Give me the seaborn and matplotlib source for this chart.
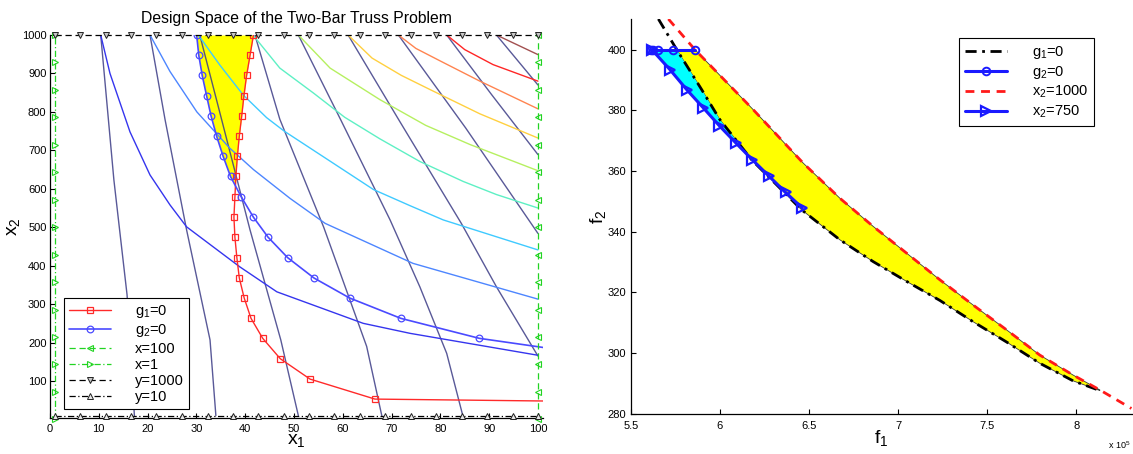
import numpy as np
import matplotlib
matplotlib.use("Agg")
import matplotlib.pyplot as plt
from matplotlib.ticker import FormatStrFormatter
import seaborn as sns

# ===================== LEFT PANEL: design space (x1, x2) =====================
# g1=0 and g2=0 are sampled on the same x2 levels (marker rows)
x2_levels = [1000, 947, 895, 842, 790, 737, 684, 632, 579, 526, 474, 421, 368, 316, 263, 211, 158, 105, 53]
g1_x1 = [41.7, 41.0, 40.3, 39.75, 39.3, 38.8, 38.4, 38.1, 37.9, 37.7, 37.9, 38.3, 38.8, 39.8, 41.2, 43.6, 47.2, 53.3, 66.6]
g1_tail_x1 = [101.5]
g1_tail_x2 = [48]
g2_x1 = [30.06, 30.5, 31.2, 32.1, 33.0, 34.15, 35.5, 37.0, 39.2, 41.7, 44.7, 48.7, 54.1, 61.4, 71.9, 88.0]
g2_tail_x1 = [101.5]
g2_tail_x2 = [186.5]

# f1 contour lines (dark, steep)
f1A_x1 = [10.4, 13.1, 14.2, 15.8, 17.3];          f1A_x2 = [1000, 623, 501, 324, 10]
f1B_x1 = [20.5, 23.6, 28.0, 32.8, 34.0];          f1B_x2 = [1000, 779, 493, 207, 10]
f1C_x1 = [30.7, 35.2, 41.0, 47.3, 50.9];          f1C_x2 = [1000, 779, 493, 207, 10]
f1D_x1 = [42.0, 47.1, 56.1, 64.9, 68.0];          f1D_x2 = [1000, 781, 500, 190, 10]
f1E_x1 = [50.9, 59.6, 69.7, 75.8, 81.3, 84.6];    f1E_x2 = [1000, 779, 519, 345, 172, 10]
f1F_x1 = [61.1, 71.5, 84.3, 91.5, 100.0];         f1F_x2 = [1000, 779, 510, 345, 165]
f1G_x1 = [71.4, 85.2, 100.0];                     f1G_x2 = [1000, 758, 484]
f1H_x1 = [81.3, 90.5, 100.0];                     f1H_x2 = [1000, 845, 689]
f1I_x1 = [91.5, 100.0];                           f1I_x2 = [1000, 870]

# f2 contour lines (coloured, hyperbola-like)
f2a_x1 = [10.4, 12.3, 16.4, 20.5, 24.6, 28.0, 38.9, 46.5, 64.2, 73.8, 100.0]
f2a_x2 = [1000, 900, 748, 636, 558, 501, 397, 332, 250, 224, 167]
f2b_x1 = [20.5, 24.6, 30.1, 36.9, 41.7, 49.2, 56.4, 74.4, 100.0]
f2b_x2 = [1000, 905, 800, 705, 650, 575, 510, 406, 313]
f2c_x1 = [30.4, 34.8, 39.6, 44.4, 48.0, 66.3, 73.8, 80.6, 100.0]
f2c_x2 = [1000, 922, 844, 785, 750, 598, 556, 519, 441]
f2d_x1 = [41.6, 47.1, 54.0, 60.4, 67.6, 75.8, 84.7, 91.5, 100.0]
f2d_x2 = [1000, 914, 849, 786, 730, 671, 619, 585, 550]
f2e_x1 = [50.9, 57.4, 67.6, 77.0, 86.1, 100.0]
f2e_x2 = [1000, 914, 832, 765, 715, 647]
f2f_x1 = [61.1, 66.0, 72.0, 77.9, 88.1, 100.0]
f2f_x2 = [1000, 940, 895, 858, 795, 732]
f2g_x1 = [71.4, 75.0, 79.9, 88.1, 100.0]
f2g_x2 = [1000, 965, 933, 880, 808]
f2h_x1 = [81.3, 85.0, 90.8, 100.0]
f2h_x2 = [1000, 962, 923, 880]
f2i_x1 = [91.5, 100.0]
f2i_x2 = [1000, 949]

# box constraints (marker positions along the bounds)
bound_x_marks = [1, 6.2, 11.4, 16.6, 21.8, 27.1, 32.3, 37.5, 42.7, 47.9, 53.1,
                 58.3, 63.5, 68.7, 73.9, 79.2, 84.4, 89.6, 94.8, 100]
bound_y_marks = [0, 71, 143, 214, 286, 357, 429, 500, 571, 643, 714, 786, 857, 929, 1000]
x_upper = 100
x_lower = 1
y_upper = 1000
y_lower = 10

# ===================== RIGHT PANEL: objective space (f1 in 1e5, f2) =====================
g1_f1 = [5.655, 5.758, 5.898, 6.0, 6.178, 6.458, 6.673, 6.86, 7.047, 7.234, 7.42, 7.608, 7.794, 7.981, 8.131]
g1_f2 = [410.1, 400, 386.8, 376.9, 363.7, 347.2, 337.3, 330.1, 323.6, 317.3, 310.3, 303.6, 296.6, 290.8, 287.6]
x2max_f1 = [5.711, 5.86, 6.187, 6.467, 6.673, 6.86, 7.047, 7.234, 7.42, 7.608, 7.794, 7.981, 8.131, 8.308]
x2max_f2 = [410.1, 400, 380.2, 362.6, 351.0, 341.7, 332.9, 324.1, 315.8, 307.6, 299.3, 292.7, 287.8, 281.7]
x2750_f1 = [5.618, 5.72, 5.814, 5.907, 5.997, 6.09, 6.182, 6.277, 6.369, 6.462]
x2750_f2 = [400, 393.4, 386.8, 380.8, 374.9, 369.2, 363.7, 358.2, 352.9, 347.8]
g2_f1 = [5.615, 5.625, 5.651, 5.735, 5.86]
g2_f2 = [400, 400, 400, 400, 400]

# ===================== styling =====================
sns.set_theme(style="white")
plt.rcParams.update({
    "font.family": ["Liberation Sans", "DejaVu Sans"],
    "mathtext.fontset": "custom",
    "mathtext.rm": "Liberation Sans",
    "mathtext.it": "Liberation Sans:italic",
    "mathtext.bf": "Liberation Sans:bold",
    "axes.edgecolor": "black",
    "axes.linewidth": 0.9,
    "axes.labelcolor": "black",
    "text.color": "black",
    "xtick.color": "black",
    "ytick.color": "black",
    "xtick.direction": "in",
    "ytick.direction": "in",
    "xtick.bottom": True,
    "ytick.left": True,
    "xtick.major.size": 3.5,
    "ytick.major.size": 3.5,
    "xtick.major.width": 0.8,
    "ytick.major.width": 0.8,
    "xtick.labelsize": 8,
    "ytick.labelsize": 8,
})

fig = plt.figure(figsize=(11.33, 4.54), dpi=100)
axL = fig.add_axes([0.0441, 0.0786, 0.4350, 0.8443])
axR = fig.add_axes([0.5567, 0.0890, 0.4422, 0.8685])


def line(ax, x, y, **kw):
    sns.lineplot(x=np.asarray(x, float), y=np.asarray(y, float), sort=False,
                 estimator=None, ax=ax, **kw)
    return ax.lines[-1]


# ---------- left panel ----------
dark = "#3c3c86"
f1_sets = [(f1A_x1, f1A_x2), (f1B_x1, f1B_x2), (f1C_x1, f1C_x2), (f1D_x1, f1D_x2),
           (f1E_x1, f1E_x2), (f1F_x1, f1F_x2), (f1G_x1, f1G_x2), (f1H_x1, f1H_x2),
           (f1I_x1, f1I_x2)]
f2_sets = [(f2a_x1, f2a_x2), (f2b_x1, f2b_x2), (f2c_x1, f2c_x2), (f2d_x1, f2d_x2),
           (f2e_x1, f2e_x2), (f2f_x1, f2f_x2), (f2g_x1, f2g_x2), (f2h_x1, f2h_x2),
           (f2i_x1, f2i_x2)]
f2_colors = ["#3535ee", "#4d86ff", "#3fcaff", "#5ef0c4", "#b6f060",
             "#ffd040", "#ff8450", "#ff2626", "#a25050"]

n_fill = 9
axL.fill_betweenx(x2_levels[:n_fill], g2_x1[:n_fill], g1_x1[:n_fill],
                  where=[a <= b for a, b in zip(g2_x1[:n_fill], g1_x1[:n_fill])],
                  interpolate=True, color="#ffff00", linewidth=0, zorder=1)

for xs, ys in f1_sets:
    line(axL, xs, ys, color=dark, lw=1.0, alpha=0.85, zorder=2)
for (xs, ys), c in zip(f2_sets, f2_colors):
    line(axL, xs, ys, color=c, lw=1.0, zorder=2)

red = "#ff2a2a"
h_g1 = line(axL, g1_x1 + g1_tail_x1, x2_levels + g1_tail_x2, color=red, lw=1.0,
            marker="s", markersize=4.5, markerfacecolor="none", markeredgecolor=red,
            markeredgewidth=0.9, markevery=list(range(len(g1_x1))), zorder=4)
blue_l = "#4a4aff"
h_g2 = line(axL, g2_x1 + g2_tail_x1, x2_levels[:len(g2_x1)] + g2_tail_x2, color=blue_l,
            lw=1.2, marker="o", markersize=4.8, markerfacecolor="none",
            markeredgecolor=blue_l, markeredgewidth=0.9,
            markevery=list(range(len(g2_x1))), zorder=4)

green = "#22d422"
h_x100 = line(axL, [x_upper] * len(bound_y_marks), bound_y_marks, color=green, lw=0.9,
              linestyle=(0, (5, 3)), marker="<", markersize=5, markerfacecolor="none",
              markeredgecolor=green, markeredgewidth=0.8, clip_on=False, zorder=5)
h_x1 = line(axL, [x_lower] * len(bound_y_marks), bound_y_marks, color=green, lw=0.9,
            linestyle=(0, (5, 2, 1, 2)), marker=">", markersize=5, markerfacecolor="none",
            markeredgecolor=green, markeredgewidth=0.8, clip_on=False, zorder=5)
h_y1000 = line(axL, bound_x_marks, [y_upper] * len(bound_x_marks), color="black", lw=0.9,
               linestyle=(0, (5, 3)), marker="v", markersize=5, markerfacecolor="#c8c8c8",
               markeredgecolor="#222222", markeredgewidth=0.7, clip_on=False, zorder=5)
h_y10 = line(axL, bound_x_marks, [y_lower] * len(bound_x_marks), color="black", lw=0.9,
             linestyle=(0, (5, 2, 1, 2)), marker="^", markersize=5, markerfacecolor="#e6e6e6",
             markeredgecolor="#222222", markeredgewidth=0.7, clip_on=False, zorder=5)

axL.set_xlim(0, 101)
axL.set_ylim(3, 1000)
axL.set_xticks(range(0, 101, 10))
axL.set_yticks(range(100, 1001, 100))
axL.tick_params(axis="x", pad=4)
axL.tick_params(axis="y", pad=2.5)
for s in ("top", "right"):
    axL.spines[s].set_visible(False)
axL.set_title("Design Space of the Two-Bar Truss Problem", fontsize=11.3, pad=9)
axL.set_xlabel("x$_1$", fontsize=14, va="top")
axL.xaxis.set_label_coords(0.5, -0.035)
axL.set_ylabel("x$_2$", fontsize=14)
axL.yaxis.set_label_coords(-0.057, 0.5)

legL = axL.legend(handles=[h_g1, h_g2, h_x100, h_x1, h_y1000, h_y10],
                  labels=["g$_1$=0", "g$_2$=0", "x=100", "x=1", "y=1000", "y=10"],
                  loc="lower left", bbox_to_anchor=(0.0284, 0.0235), borderaxespad=0,
                  frameon=True, fancybox=False, framealpha=1, edgecolor="black",
                  fontsize=10.5, handlelength=2.9, handletextpad=1.6,
                  labelspacing=0.15, borderpad=0.35)
legL.get_frame().set_linewidth(0.8)
legL.set_zorder(10)

# ---------- right panel ----------
ypoly_x = np.r_[g1_f1[1:], x2max_f1[1:-1][::-1]]
ypoly_y = np.r_[g1_f2[1:], x2max_f2[1:-1][::-1]]
axR.fill(ypoly_x, ypoly_y, facecolor="#ffff00", edgecolor="#3a3a3a", linewidth=0.6, zorder=1)
cpoly_x = np.r_[x2750_f1[:7], g1_f1[1:5][::-1]]
cpoly_y = np.r_[x2750_f2[:7], g1_f2[1:5][::-1]]
axR.fill(cpoly_x, cpoly_y, facecolor="#00ffff", edgecolor="none", zorder=1)

hr_g1 = line(axR, g1_f1, g1_f2, color="black", lw=2.0, linestyle=(0, (4, 2, 1, 2)), zorder=3)
hr_max = line(axR, x2max_f1, x2max_f2, color="#ff1a1a", lw=2.0, linestyle=(0, (3.2, 2.4)), zorder=3)
blue = "#1a1aff"
hr_750 = line(axR, x2750_f1, x2750_f2, color=blue, lw=2.2, marker=">", markersize=6.5,
              markerfacecolor="none", markeredgecolor=blue, markeredgewidth=1.6, zorder=4)
hr_g2 = line(axR, g2_f1, g2_f2, color=blue, lw=2.2, marker="o", markersize=5.5,
             markerfacecolor="none", markeredgecolor=blue, markeredgewidth=1.4, zorder=4)

axR.set_xlim(5.5, 8.31)
axR.set_ylim(280, 410)
axR.set_xticks([5.5, 6, 6.5, 7, 7.5, 8])
axR.xaxis.set_major_formatter(FormatStrFormatter("%g"))
axR.set_yticks(range(280, 401, 20))
axR.tick_params(axis="x", pad=5)
axR.tick_params(axis="y", pad=3.5)
for s in ("top", "right"):
    axR.spines[s].set_visible(False)
axR.set_xlabel("f$_1$", fontsize=14, va="top")
axR.xaxis.set_label_coords(0.5, -0.036)
axR.set_ylabel("f$_2$", fontsize=14)
axR.yaxis.set_label_coords(-0.045, 0.5)
axR.text(0.998, -0.08, "x 10$^5$", transform=axR.transAxes, fontsize=6.5,
         ha="right", va="center")

legR = axR.legend(handles=[hr_g1, hr_g2, hr_max, hr_750],
                  labels=["g$_1$=0", "g$_2$=0", "x$_2$=1000", "x$_2$=750"],
                  loc="upper left", bbox_to_anchor=(0.655, 0.953), borderaxespad=0,
                  frameon=True, fancybox=False, framealpha=1, edgecolor="black",
                  fontsize=10.5, handlelength=2.9, handletextpad=1.7,
                  labelspacing=0.22, borderpad=0.4)
legR.get_frame().set_linewidth(0.8)

fig.savefig("out.png", dpi=100)
